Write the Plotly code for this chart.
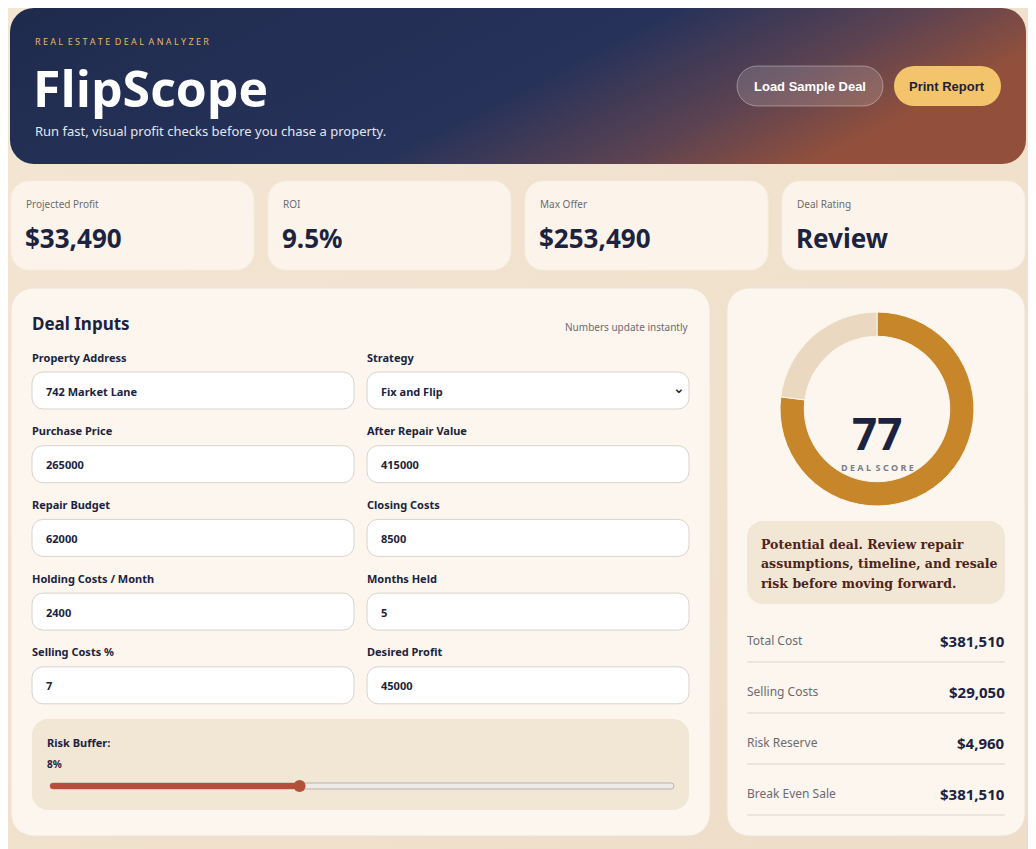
import base64
import plotly.graph_objects as go

W, H = 1036, 849
OFF = 8  # page body margin in the browser

# ---- data ----
kpi_labels = ["Projected Profit", "ROI", "Max Offer", "Deal Rating"]
kpi_values = ["$33,490", "9.5%", "$253,490", "Review"]

input_labels = ["Property Address", "Strategy", "Purchase Price", "After Repair Value",
                "Repair Budget", "Closing Costs", "Holding Costs / Month", "Months Held",
                "Selling Costs %", "Desired Profit"]
input_values = ["742 Market Lane", "Fix and Flip", "265000", "415000", "62000",
                "8500", "2400", "5", "7", "45000"]

risk_buffer = 8
risk_max = 20

deal_score = 77
score_max = 100

summary_labels = ["Total Cost", "Selling Costs", "Risk Reserve", "Break Even Sale"]
summary_values = ["$381,510", "$29,050", "$4,960", "$381,510"]

message_lines = ["Potential deal. Review repair", "assumptions, timeline, and resale",
                 "risk before moving forward."]

NAVY = "#1B2340"
ORANGE = "#C8862A"

rects = []
shapes = []
ann = []


def box(x0, y0, x1, y1, r, fill, line="none", lw=1):
    rects.append(f"<rect x='{x0}' y='{y0}' width='{x1-x0}' height='{y1-y0}' rx='{r}' "
                 f"fill='{fill}' stroke='{line}' stroke-width='{lw}'/>")


def text(x, y, s, size, color=NAVY, bold=False, anchor="left", font="Noto Sans"):
    # annotations carry a little padding, nudge to line up with the page
    dx = {"left": -2, "right": 2, "center": 0}[anchor]
    ann.append(dict(x=x + dx, y=y, xref="x", yref="y", text=f"<b>{s}</b>" if bold else s,
                    showarrow=False, xanchor=anchor, yanchor="middle",
                    font=dict(size=size, color=color, family=font)))


# header
box(10, 8, 1026, 164, 24, "url(#hd)")
text(35, 41, "R E A L  E S T A T E  D E A L  A N A L Y Z E R", 9, "#E8B765")
text(33, 88, "FlipScope", 50, "white", True, font="Open Sans")
text(35, 131, "Run fast, visual profit checks before you chase a property.", 13, "#E4E6EE")
box(737, 66, 883, 106, 20, "rgba(255,255,255,0.15)", "rgba(255,255,255,0.35)")
text(810, 86, "Load Sample Deal", 13, "white", True, "center", "Liberation Sans")
box(894, 66, 1001, 106, 20, "#F4C46C")
text(947, 86, "Print Report", 13, "#1F2233", True, "center", "Liberation Sans")

# kpis
for i, (lab, val) in enumerate(zip(kpi_labels, kpi_values)):
    x0 = 11 + i * 257
    box(x0, 181, x0 + 243, 270, 18, "#FCF4EA", "#F6ECE0")
    text(x0 + 15, 204, lab, 10, "#6B6B72")
    text(x0 + 14, 238, val, 26, NAVY, True)

# inputs panel
box(11, 288, 710, 836, 22, "#FCF6EE", "#EEE3D6")
text(32, 323, "Deal Inputs", 17, NAVY, True)
text(689, 327, "Numbers update instantly", 10, "#6B6B72", anchor="right")
for i, (lab, val) in enumerate(zip(input_labels, input_values)):
    col, row = i % 2, i // 2
    x0 = 32 if col == 0 else 367
    x1 = 354 if col == 0 else 689
    y = 357 + row * 73.7
    text(x0, y, lab, 11, NAVY, True)
    box(x0, y + 15, x1, y + 52, 11, "white", "#D8D3CC")
    text(x0 + 14, y + 34, val, 11, NAVY, True)
    if lab == "Strategy":
        text(x1 - 10, y + 31, "⌄", 14, NAVY, True, "center", "DejaVu Sans")

# risk buffer
box(32, 719, 689, 810, 16, "#F2E6D5")
text(47, 742, "Risk Buffer:", 11, NAVY, True)
text(47, 764, f"{risk_buffer}%", 10, NAVY, True)
tx0, tx1, ty = 50, 674, 786
kx = tx0 + (tx1 - tx0) * risk_buffer / risk_max
box(tx0, ty - 3, tx1, ty + 3, 3, "#EEEAE6", "#B9B3AC")
box(tx0, ty - 3, kx, ty + 3, 3, "#B4503A")
rects.append(f"<circle cx='{kx}' cy='{ty}' r='6' fill='#B4503A'/>")

# score panel
box(727, 288, 1025, 836, 22, "#FCF6EE", "#EEE3D6")
text(877, 433, str(deal_score), 44, NAVY, True, "center")
text(877, 467, "D E A L  S C O R E", 9, "#7A7E8C", True, "center")
box(747, 521, 1005, 604, 16, "#F2E6D5")
for j, line in enumerate(message_lines):
    text(761, 544 + j * 19.5, line, 12.5, "#4E2418", True, font="DejaVu Serif")
for j, (lab, val) in enumerate(zip(summary_labels, summary_values)):
    y = 640 + j * 51
    text(747, y, lab, 12, "#6B6B72")
    text(1005, y + 1, val, 15, NAVY, True, "right")
    shapes.append(dict(type="line", x0=747, x1=1005, y0=y + 22, y1=y + 22,
                       line=dict(color="#DDD5CB", width=1)))

# background, cards and header gradient as one svg image
svg = f"""<svg xmlns='http://www.w3.org/2000/svg' width='{W}' height='{H}' viewBox='0 0 {W} {H}'>
<defs>
<linearGradient id='bg' x1='0' y1='0' x2='1' y2='1'>
<stop offset='0' stop-color='#F3E6D3'/><stop offset='1' stop-color='#EEDDC8'/></linearGradient>
<linearGradient id='hd' x1='0' y1='0' x2='1' y2='0.3'>
<stop offset='0' stop-color='#1F2B4D'/><stop offset='0.6' stop-color='#26325A'/>
<stop offset='0.82' stop-color='#5A4252'/><stop offset='1' stop-color='#92503C'/></linearGradient>
</defs>
<rect width='{W}' height='{H}' fill='url(#bg)'/>
{''.join(rects)}
</svg>"""
src = "data:image/svg+xml;base64," + base64.b64encode(svg.encode()).decode()

cx, cy, rad = 877 - OFF, 409 - OFF, 97
fig = go.Figure(go.Pie(
    values=[deal_score, score_max - deal_score], sort=False, direction="clockwise",
    rotation=0, hole=0.75, textinfo="none", hoverinfo="skip",
    marker=dict(colors=[ORANGE, "#EAD9C0"], line=dict(color="#FCF6EE", width=1)),
    domain=dict(x=[(cx - rad) / W, (cx + rad) / W], y=[1 - (cy + rad) / H, 1 - (cy - rad) / H]),
    showlegend=False))

fig.update_layout(
    width=W, height=H, margin=dict(l=0, r=0, t=0, b=0),
    paper_bgcolor="#F1E4D3", plot_bgcolor="rgba(0,0,0,0)",
    xaxis=dict(range=[OFF, W + OFF], visible=False, fixedrange=True),
    yaxis=dict(range=[H + OFF, OFF], visible=False, fixedrange=True),
    images=[dict(source=src, xref="x", yref="y", x=0, y=0, sizex=W, sizey=H,
                 sizing="stretch", layer="below")],
    shapes=shapes, annotations=ann)

fig.write_html("out.html", config={"displayModeBar": False})
